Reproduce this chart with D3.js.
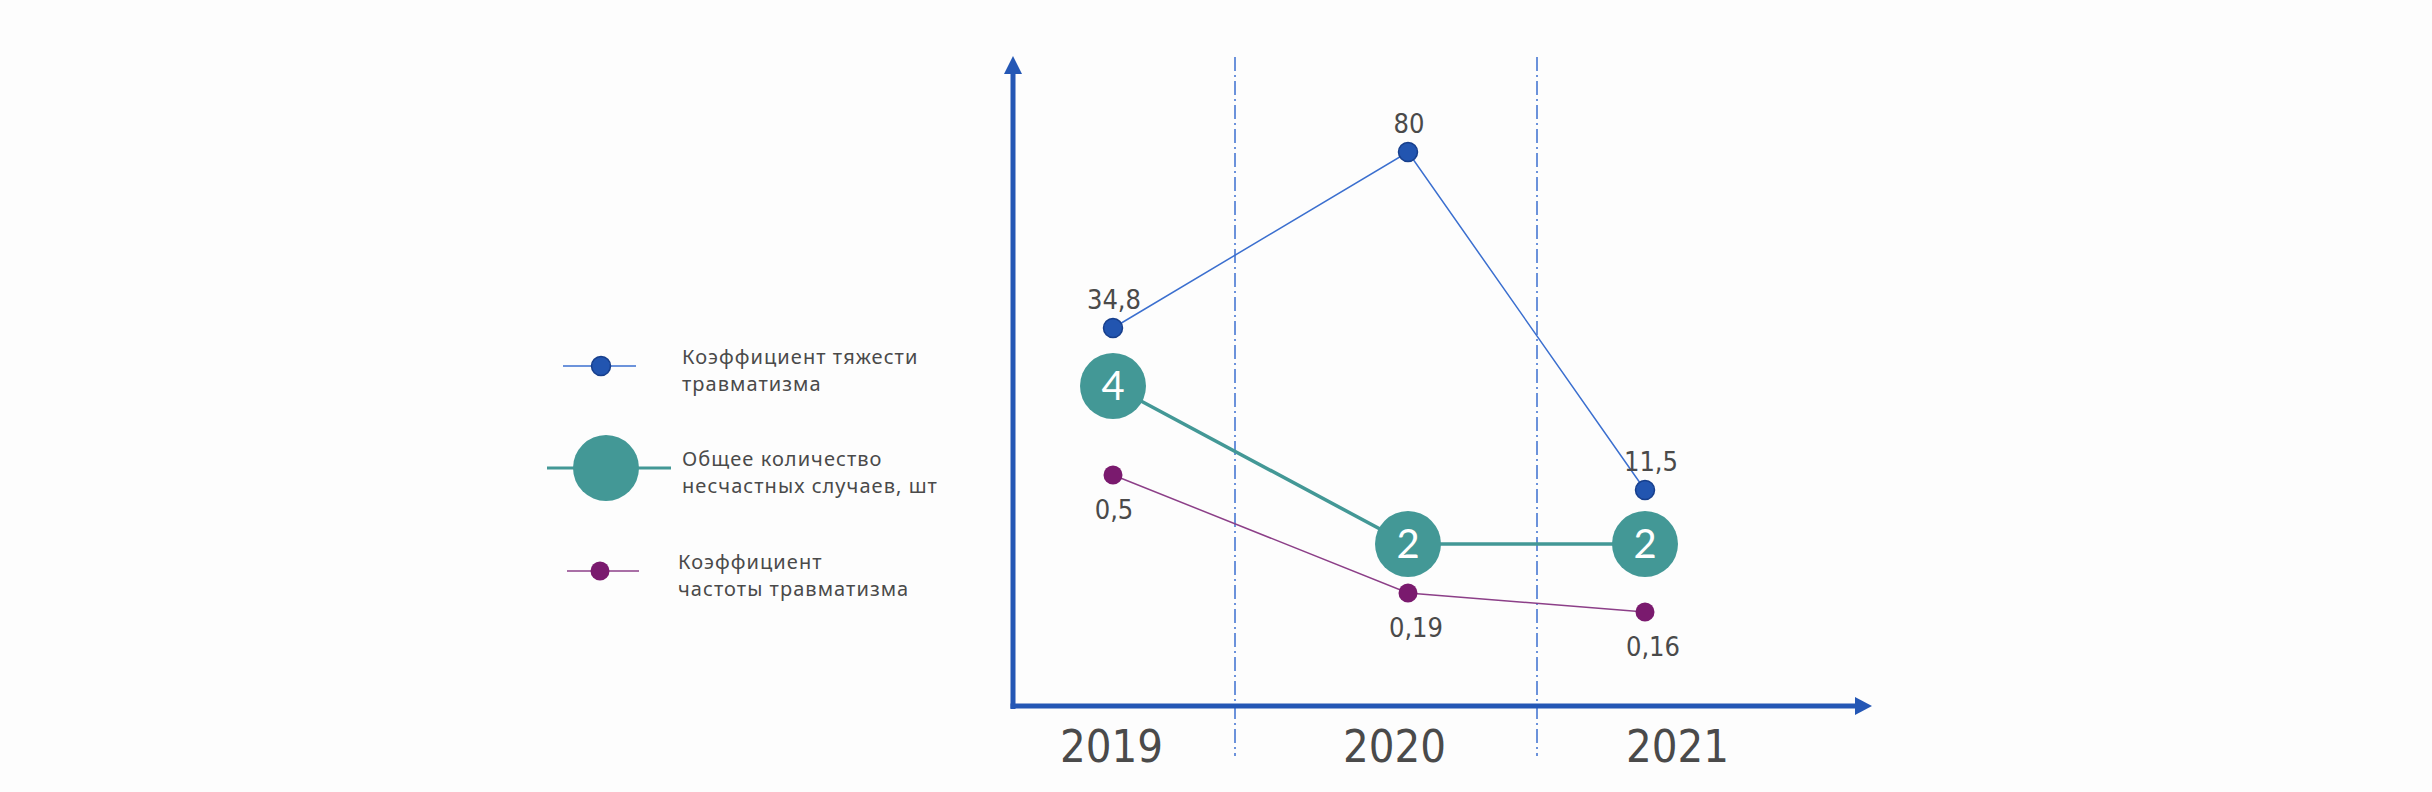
<!DOCTYPE html>
<html><head><meta charset="utf-8">
<script src="https://cdn.jsdelivr.net/npm/d3@7"></script>
<style>
html,body{margin:0;padding:0;background:#fdfdfd;}
svg{display:block;}
</style></head>
<body>
<svg id="c" width="2432" height="792"></svg>
<script>
// ---- data ----
const years = ["2019", "2020", "2021"];
const severity = [34.8, 80, 11.5];          // Коэффициент тяжести травматизма
const severityLabels = ["34,8", "80", "11,5"];
const accidents = [4, 2, 2];                // Общее количество несчастных случаев, шт
const frequency = [0.5, 0.19, 0.16];         // Коэффициент частоты травматизма
const frequencyLabels = ["0,5", "0,19", "0,16"];
const legendNames = [
  ["Коэффициент тяжести", "травматизма"],
  ["Общее количество", "несчастных случаев, шт"],
  ["Коэффициент", "частоты травматизма"]
];

// ---- styles ----
const C = {
  axis: "#2457b5", blue: "#2255b0", blueStroke: "#173f8c", blueLine: "#3b6fcf",
  teal: "#439896", purple: "#7a1a6e", purpleLine: "#8c3f88", text: "#4a4a4a", grid: "#3b6fcf"
};
const numFont = "'Liberation Sans Narrow','DejaVu Sans Condensed','Roboto',sans-serif";
const legFont = "'Noto Sans','Open Sans',sans-serif";

const svg = d3.select("#c");

// ---- scales ----
const xLabel = d3.scalePoint().domain(years).range([1111, 1677]);
const xMark = d3.scaleOrdinal().domain(years).range([1113, 1408, 1645]);
const ySev = d3.scaleLinear().domain([11.5, 34.8, 80]).range([490, 328, 152]);
const yAcc = d3.scaleLinear().domain([2, 4]).range([544, 386]);
const yFreq = d3.scaleLinear().domain([0.16, 0.19, 0.5]).range([612, 593, 475]);

// ---- separators (dash-dot) ----
const sepScale = d3.scaleOrdinal().domain([0, 1]).range([1235, 1537]);
svg.selectAll("line.sep").data([0, 1]).enter().append("line")
  .attr("class", "sep")
  .attr("x1", d => sepScale(d)).attr("x2", d => sepScale(d))
  .attr("y1", 57).attr("y2", 756)
  .attr("stroke", C.grid).attr("stroke-width", 1.5)
  .attr("stroke-dasharray", "14,4,2,4");

// ---- axes ----
svg.append("line").attr("x1", 1013).attr("x2", 1013).attr("y1", 709).attr("y2", 70)
  .attr("stroke", C.axis).attr("stroke-width", 5);
svg.append("path").attr("d", "M1013,56 L1022,74 L1004,74 Z").attr("fill", C.axis);
svg.append("line").attr("x1", 1010.5).attr("x2", 1858).attr("y1", 706).attr("y2", 706)
  .attr("stroke", C.axis).attr("stroke-width", 5);
svg.append("path").attr("d", "M1872,706 L1855,697 L1855,715 Z").attr("fill", C.axis);

// year labels via axis
const xAxis = d3.axisBottom(xLabel).tickSize(0).tickPadding(0);
const gx = svg.append("g").attr("transform", "translate(0,730)").call(xAxis);
gx.select(".domain").remove();
gx.selectAll("text").attr("font-family", numFont).attr("font-size", 45)
  .attr("fill", C.text).attr("dy", "0.71em");

// ---- series lines ----
const idx = d3.range(years.length);
const lineSev = d3.line().x(i => xMark(years[i])).y(i => ySev(severity[i]));
const lineAcc = d3.line().x(i => xMark(years[i])).y(i => yAcc(accidents[i]));
const lineFreq = d3.line().x(i => xMark(years[i])).y(i => yFreq(frequency[i]));

svg.append("path").attr("d", lineSev(idx)).attr("fill", "none")
  .attr("stroke", C.blueLine).attr("stroke-width", 1.5);
svg.append("path").attr("d", lineFreq(idx)).attr("fill", "none")
  .attr("stroke", C.purpleLine).attr("stroke-width", 1.5);
svg.append("path").attr("d", lineAcc(idx)).attr("fill", "none")
  .attr("stroke", C.teal).attr("stroke-width", 3.5);

// ---- markers ----
svg.selectAll("circle.sev").data(idx).enter().append("circle")
  .attr("cx", i => xMark(years[i])).attr("cy", i => ySev(severity[i])).attr("r", 9.5)
  .attr("fill", C.blue).attr("stroke", C.blueStroke).attr("stroke-width", 1.5);
svg.selectAll("circle.freq").data(idx).enter().append("circle")
  .attr("cx", i => xMark(years[i])).attr("cy", i => yFreq(frequency[i])).attr("r", 9.5)
  .attr("fill", C.purple);
svg.selectAll("circle.acc").data(idx).enter().append("circle")
  .attr("cx", i => xMark(years[i])).attr("cy", i => yAcc(accidents[i])).attr("r", 33)
  .attr("fill", C.teal);

// ---- value labels ----
svg.selectAll("text.sev").data(idx).enter().append("text")
  .attr("x", i => xMark(years[i]) + (i === 2 ? 6 : 1))
  .attr("y", i => ySev(severity[i]) - 19)
  .attr("text-anchor", "middle").attr("font-family", numFont).attr("font-size", 27)
  .attr("fill", C.text).text(i => severityLabels[i]);
svg.selectAll("text.freq").data(idx).enter().append("text")
  .attr("x", i => xMark(years[i]) + (i === 0 ? 1 : 8))
  .attr("y", i => yFreq(frequency[i]) + 44)
  .attr("text-anchor", "middle").attr("font-family", numFont).attr("font-size", 27)
  .attr("fill", C.text).text(i => frequencyLabels[i]);
svg.selectAll("text.acc").data(idx).enter().append("text")
  .attr("x", i => xMark(years[i]))
  .attr("y", i => yAcc(accidents[i]))
  .attr("dy", "0.36em")
  .attr("text-anchor", "middle").attr("font-family", "'Lato','Noto Sans',sans-serif")
  .attr("font-weight", 400).attr("font-size", 40)
  .attr("fill", "#ffffff").text(i => accidents[i]);

// ---- legend ----
const legendY = d3.scaleOrdinal().domain([0, 1, 2]).range([366, 468, 571]);
const leg = [
  {x1: 563, x2: 636, cx: 601, r: 9.5, line: C.blueLine, fill: C.blue, stroke: C.blueStroke, w: 1.5, tx: 682},
  {x1: 547, x2: 671, cx: 606, r: 33, line: C.teal, fill: C.teal, stroke: "none", w: 3, tx: 682},
  {x1: 567, x2: 639, cx: 600, r: 9.5, line: C.purpleLine, fill: C.purple, stroke: "none", w: 1.5, tx: 678}
];
const lg = svg.selectAll("g.leg").data(leg).enter().append("g");
lg.append("line").attr("x1", d => d.x1).attr("x2", d => d.x2)
  .attr("y1", (d, i) => legendY(i)).attr("y2", (d, i) => legendY(i))
  .attr("stroke", d => d.line).attr("stroke-width", d => d.w);
lg.append("circle").attr("cx", d => d.cx).attr("cy", (d, i) => legendY(i)).attr("r", d => d.r)
  .attr("fill", d => d.fill).attr("stroke", d => d.stroke).attr("stroke-width", 1.5);
const lt = lg.append("text").attr("font-family", legFont).attr("font-size", 20)
  .attr("letter-spacing", 1.05).attr("fill", C.text);
lt.append("tspan").attr("x", d => d.tx).attr("y", (d, i) => legendY(i) - 2)
  .text((d, i) => legendNames[i][0]);
lt.append("tspan").attr("x", d => d.tx).attr("y", (d, i) => legendY(i) + 25)
  .text((d, i) => legendNames[i][1]);
</script>
</body></html>
